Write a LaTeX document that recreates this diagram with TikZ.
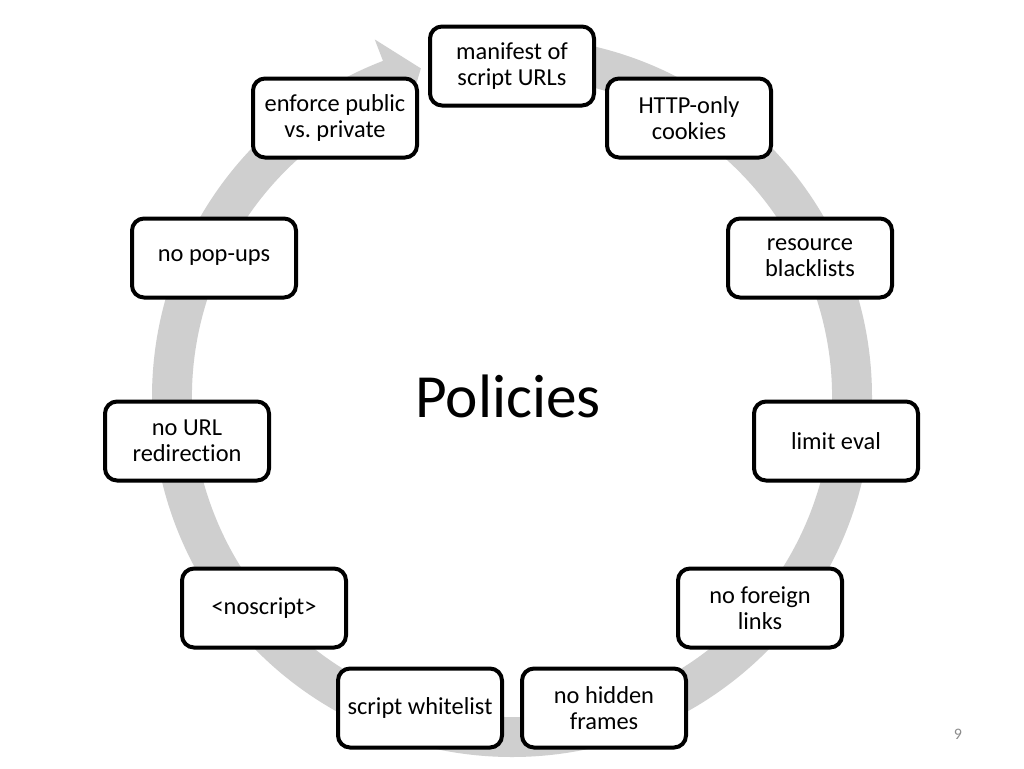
\documentclass[tikz,border=0pt]{standalone}
\usepackage{fontspec}
\setmainfont[Ligatures=NoCommon]{Carlito}
\frenchspacing
\usetikzlibrary{shadows}
\definecolor{ringgray}{RGB}{207,207,207}
\definecolor{numgray}{RGB}{140,140,140}
\tikzset{
  pbox/.style={draw=black, line width=3pt, rounded corners=9pt, fill=white,
    minimum width=123pt, minimum height=59.25pt, align=center, inner sep=2pt,
    font=\fontsize{18.3}{19.5}\selectfont,
    drop shadow={shadow xshift=0.6pt, shadow yshift=-1.2pt, opacity=0.3, fill=black}},
  ring/.style={fill=ringgray, draw=none}
}
\begin{document}
\begin{tikzpicture}[x=0.75pt, y=-0.75pt]
\useasboundingbox (0,0) rectangle (1024,768);
\fill[white] (0,0) rectangle (1024,768);
\coordinate (C) at (512,397);
\begin{scope}[shift={(C)}, x=0.75pt, y=0.75pt]
  \fill[ring] (90:360) arc[start angle=90, end angle=-249, radius=360]
    -- (-249:383) -- (-254.5:341) -- (-249:297) -- (-249:320)
    arc[start angle=-249, end angle=90, radius=320] -- cycle;
\end{scope}
\node[pbox] (manifest) at (512,66) {manifest of\\script URLs};
\node[pbox] (http) at (689,118) {HTTP-only\\cookies};
\node[pbox] (resource) at (810,258) {resource\\blacklists};
\node[pbox] (limit) at (836,441) {limit eval};
\node[pbox] (foreign) at (760,608) {no foreign\\links};
\node[pbox] (hidden) at (604,708) {no hidden\\frames};
\node[pbox] (whitelist) at (420,708) {script whitelist};
\node[pbox] (noscript) at (264,608) {<noscript>};
\node[pbox] (redirect) at (187,441) {no URL\\redirection};
\node[pbox] (popups) at (214,258) {no pop-ups};
\node[pbox] (enforce) at (335,118) {enforce public\\vs. private};
\node[anchor=base, inner sep=0pt, font=\fontsize{46}{55}\selectfont] (title) at (508,417) {Policies};
\node[inner sep=0pt, text=numgray, font=\fontsize{12}{14}\selectfont] (page) at (958,734) {9};
\end{tikzpicture}
\end{document}
